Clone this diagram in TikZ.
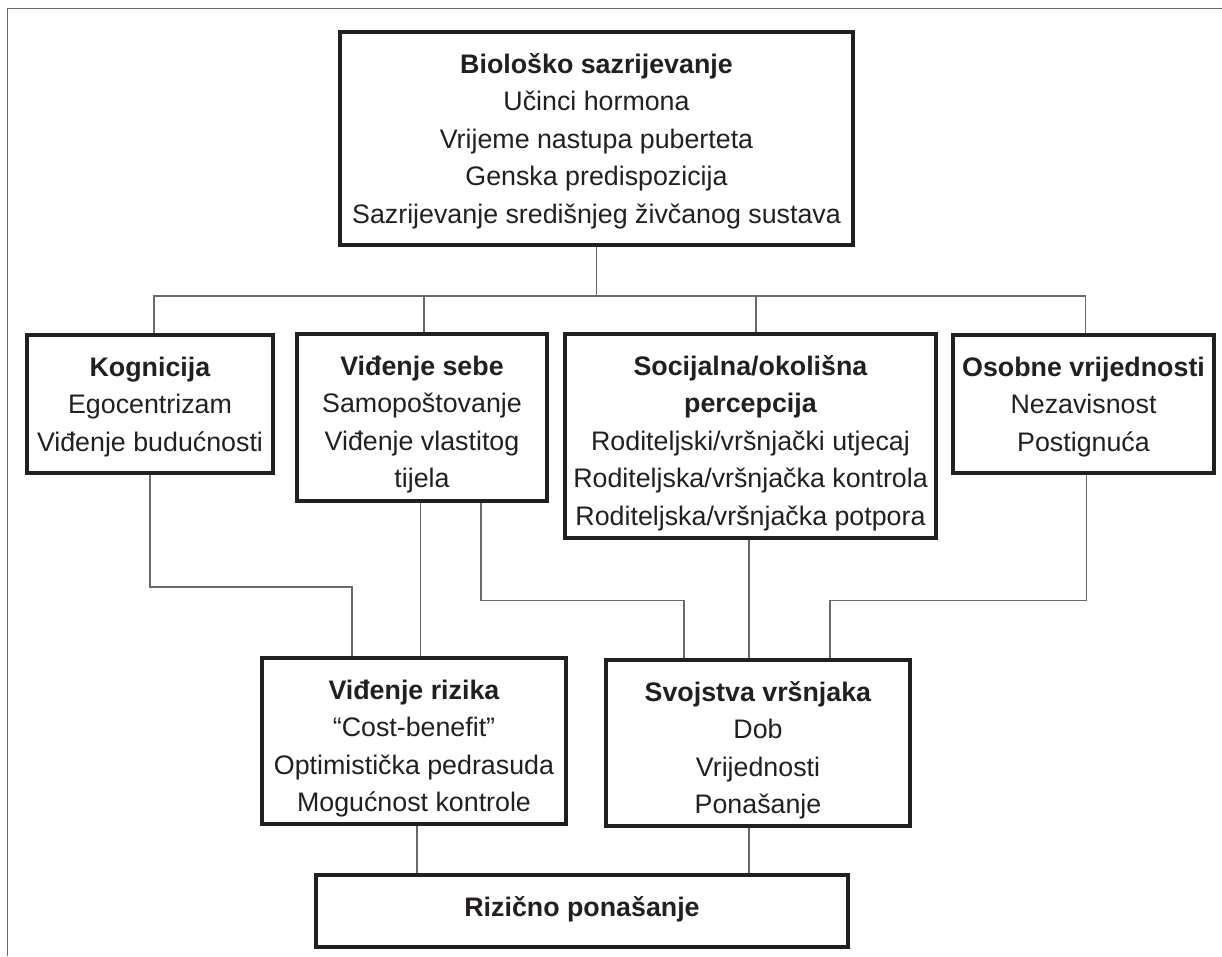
\documentclass[tikz,border=0pt]{standalone}
\usepackage{fontspec}
\setmainfont{Liberation Sans}
\usetikzlibrary{positioning}

\definecolor{tamna}{HTML}{231F20}
\definecolor{siva}{HTML}{6A6A6A}

% box: name, x, y (centre), width, height, text
\newcommand{\blok}[6]{%
  \node[blok, minimum width=#4, minimum height=#5] (#1) at (#2,#3)
    {\parbox[c][#5][t]{#4}{\centering\rule{0pt}{41pt}#6}};}

\begin{document}
\begin{tikzpicture}[x=1pt,y=-1pt]
\tikzstyle{blok}=[draw=tamna, line width=3.6pt, inner sep=0pt, text=tamna,
  font=\fontsize{26.8}{37.5}\selectfont]
\tikzstyle{veza}=[draw=siva, line width=1.2pt]
\useasboundingbox (0,0) rectangle (1222,956);
\draw [siva, line width=1.4pt] (7.3,956) -- (7.3,8.7) -- (1222,8.7);
\blok{bio}{596.5}{138.5}{513pt}{213pt}{\textbf{Biološko sazrijevanje}\\Učinci hormona\\Vrijeme nastupa puberteta\\Genska predispozicija\\Sazrijevanje središnjeg živčanog sustava}
\blok{kog}{150}{404}{246pt}{138pt}{\textbf{Kognicija}\\Egocentrizam\\Viđenje budućnosti}
\blok{sebe}{422}{417.5}{250pt}{167pt}{\textbf{Viđenje sebe}\\Samopoštovanje\\Viđenje vlastitog\\tijela}
\blok{soc}{750.5}{436}{371pt}{204pt}{\textbf{Socijalna/okolišna}\\\textbf{percepcija}\\Roditeljski/vršnjački utjecaj\\Roditeljska/vršnjačka kontrola\\Roditeljska/vršnjačka potpora}
\blok{osob}{1083.5}{404}{261pt}{138pt}{\textbf{Osobne vrijednosti}\\Nezavisnost\\Postignuća}
\blok{riz}{414}{741}{304pt}{166pt}{\textbf{Viđenje rizika}\\“Cost-benefit”\\Optimistička pedrasuda\\Mogućnost kontrole}
\blok{svoj}{758}{743}{304pt}{166pt}{\textbf{Svojstva vršnjaka}\\Dob\\Vrijednosti\\Ponašanje}
\blok{ponas}{582}{911}{532pt}{72pt}{\textbf{Rizično ponašanje}}
% top branching
\coordinate (racva) at (596.5,296);
\draw [veza] (bio.south) -- (racva);
\draw [veza] ([xshift=4pt]kog.north) |- (racva) -| ([xshift=2pt]osob.north);
\draw [veza] ([xshift=2pt]sebe.north) -- ([xshift=2pt]sebe.north |- racva);
\draw [veza] ([xshift=5.5pt]soc.north) -- ([xshift=5.5pt]soc.north |- racva);
% into the lower row
\draw [veza] (kog.south) -- (kog.south |- 0,587) -| ([xshift=-62pt]riz.north);
\draw [veza] ([xshift=-1.3pt]sebe.south) -- ([xshift=-1.3pt]sebe.south |- riz.north);
\draw [veza] ([xshift=59pt]sebe.south) -- ([xshift=59pt]sebe.south |- 0,600.5) -| ([xshift=-74pt]svoj.north);
\draw [veza] ([xshift=-1.5pt]soc.south) -- ([xshift=-1.5pt]soc.south |- svoj.north);
\draw [veza] ([xshift=3pt]osob.south) -- ([xshift=3pt]osob.south |- 0,600.5) -| ([xshift=72pt]svoj.north);
% into the outcome
\draw [veza] ([xshift=3pt]riz.south) -- ([xshift=3pt]riz.south |- ponas.north);
\draw [veza] ([xshift=-9pt]svoj.south) -- ([xshift=-9pt]svoj.south |- ponas.north);
\end{tikzpicture}
\end{document}
